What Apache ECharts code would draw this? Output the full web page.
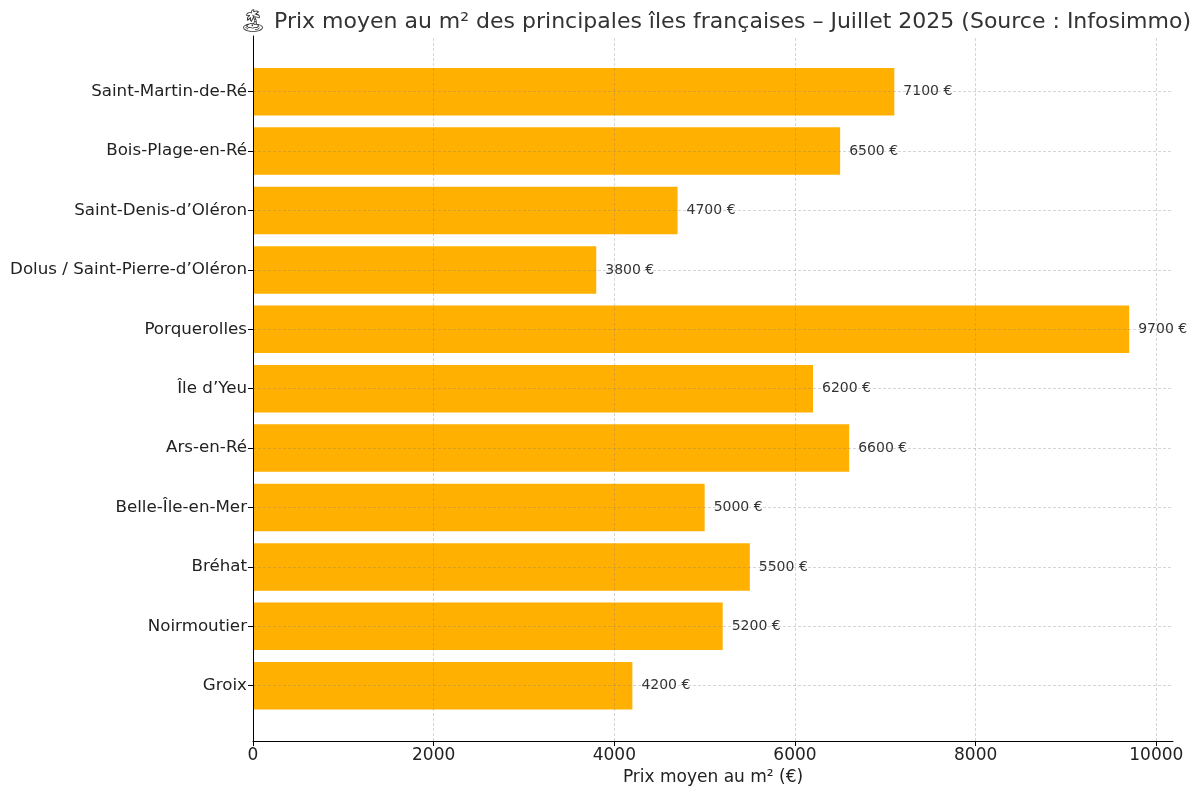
<!DOCTYPE html>
<html>
<head>
<meta charset="utf-8">
<script src="https://cdn.jsdelivr.net/npm/echarts@6/dist/echarts.min.js"></script>
<style>html,body{margin:0;padding:0;background:#fff;}#c{width:1200px;height:795px;}</style>
</head>
<body>
<div id="c"></div>
<script>
const titleText = '🏝 Prix moyen au m² des principales îles françaises – Juillet 2025 (Source : Infosimmo)';
const xAxisName = 'Prix moyen au m² (€)';
const islands = ['Saint-Martin-de-Ré', 'Bois-Plage-en-Ré', 'Saint-Denis-d’Oléron', 'Dolus / Saint-Pierre-d’Oléron', 'Porquerolles', 'Île d’Yeu', 'Ars-en-Ré', 'Belle-Île-en-Mer', 'Bréhat', 'Noirmoutier', 'Groix'];
const prices = [7100, 6500, 4700, 3800, 9700, 6200, 6600, 5000, 5500, 5200, 4200];
const xTicks = [0, 2000, 4000, 6000, 8000, 10000];

const font = 'DejaVu Sans';
const xMax = 10185;
const gridLine = {type: [3, 2], color: 'rgba(128,128,128,0.32)', width: 1};
const chart = echarts.init(document.getElementById('c'), null, {renderer: 'canvas'});
chart.setOption({
  animation: false,
  title: {
    text: titleText, left: 710, top: 6, textAlign: 'center',
    textStyle: {fontFamily: font, fontSize: 22, fontWeight: 'normal', color: '#333'}
  },
  grid: [
    {left: 253, right: 27, top: 36, bottom: 54},
    {left: 253, right: 27, top: 62, height: 653.4}
  ],
  xAxis: [
    {
      gridIndex: 0, type: 'value', min: 0, max: xMax, z: 6,
      axisLine: {show: true, lineStyle: {color: '#000', width: 1}},
      axisTick: {show: true, length: 5, lineStyle: {color: '#000'}, customValues: xTicks},
      axisLabel: {fontFamily: font, fontSize: 17, color: '#222', margin: 6, customValues: xTicks,
        formatter: v => String(v)},
      splitLine: {show: false},
      name: xAxisName, nameLocation: 'middle', nameGap: 27,
      nameTextStyle: {fontFamily: font, fontSize: 17, color: '#222'}
    },
    {gridIndex: 1, type: 'value', min: 0, max: xMax, show: false}
  ],
  yAxis: [
    {gridIndex: 0, type: 'value', min: 0, max: 1, z: 6,
      axisLine: {show: true, lineStyle: {color: '#000', width: 1}},
      axisTick: {show: false}, axisLabel: {show: false}, splitLine: {show: false}},
    {gridIndex: 1, type: 'category', data: islands, inverse: true,
      axisLine: {show: false},
      axisTick: {show: true, alignWithLabel: true, length: 5, lineStyle: {color: '#000'}},
      axisLabel: {fontFamily: font, fontSize: 16.7, color: '#222', margin: 6},
      splitLine: {show: false}}
  ],
  series: [
    {
      type: 'bar', xAxisIndex: 1, yAxisIndex: 1, data: prices, z: 2,
      barWidth: '80%',
      itemStyle: {color: '#FFB000'},
      label: {show: true, position: 'right', distance: 9, fontFamily: font, fontSize: 14, color: '#333',
        formatter: p => p.value + ' €'}
    },
    {
      type: 'line', xAxisIndex: 0, yAxisIndex: 0, data: [], z: 4, silent: true,
      markLine: {
        silent: true, z: 4, symbol: ['none', 'none'], label: {show: false},
        lineStyle: gridLine,
        data: xTicks.filter(v => v > 0).map(v => ({xAxis: v}))
      }
    },
    {
      type: 'line', xAxisIndex: 1, yAxisIndex: 1, data: [], z: 4, silent: true,
      markLine: {
        silent: true, z: 4, symbol: ['none', 'none'], label: {show: false},
        lineStyle: gridLine,
        data: islands.map(n => ({yAxis: n}))
      }
    }
  ]
});
</script>
</body>
</html>
